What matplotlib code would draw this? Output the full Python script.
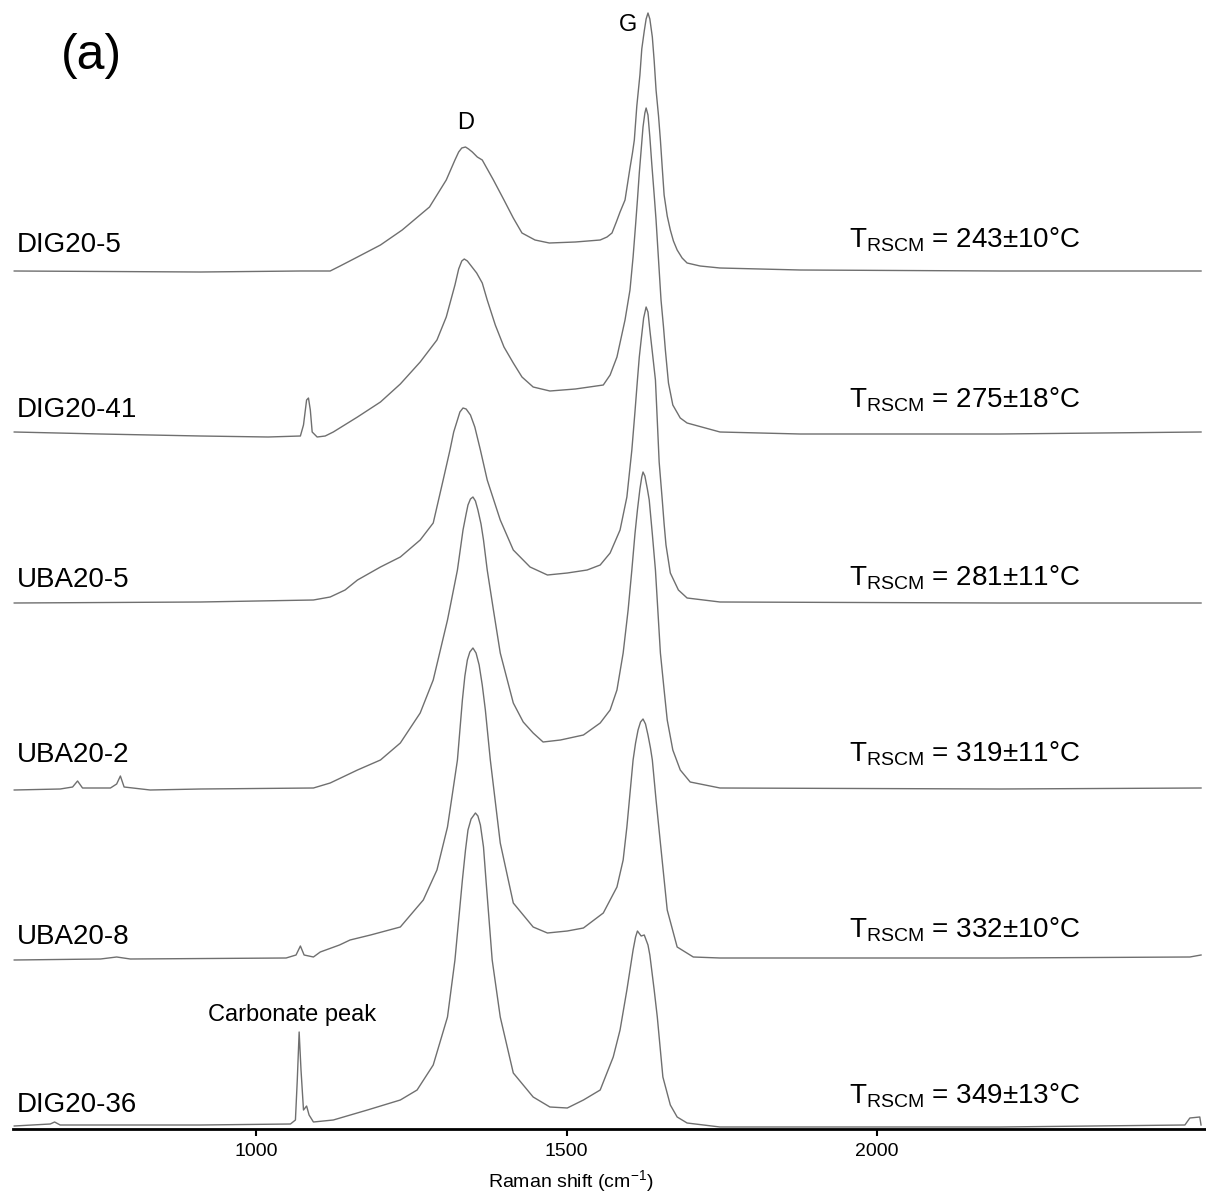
import matplotlib
matplotlib.use('Agg')
import matplotlib.pyplot as plt

plt.rcParams['font.family'] = ['Liberation Sans', 'DejaVu Sans']
plt.rcParams['mathtext.fontset'] = 'custom'
plt.rcParams['mathtext.rm'] = 'Liberation Sans'
plt.rcParams['mathtext.it'] = 'Liberation Sans:italic'

# sample names, top to bottom
samples = ['DIG20-5', 'DIG20-41', 'UBA20-5', 'UBA20-2', 'UBA20-8', 'DIG20-36']
temps = ['243±10°C', '275±18°C', '281±11°C', '319±11°C', '332±10°C', '349±13°C']
# vertical stacking offset of each spectrum (a.u.)
offsets = [858, 694, 527, 340, 171, 4]

# spectra: Raman shift (cm-1) and intensity above baseline (a.u.)
dig20_5_x = [610, 910, 1071, 1119, 1135, 1163, 1200, 1235, 1279, 1306,
             1320, 1326, 1331, 1337, 1342, 1348, 1356, 1364, 1382, 1399,
             1414, 1428, 1449, 1472, 1514, 1554, 1565, 1573, 1580, 1586,
             1594, 1602, 1606, 1609, 1613, 1618, 1621, 1625, 1628, 1631,
             1634, 1638, 1641, 1644, 1648, 1651, 1654, 1657, 1662, 1667,
             1672, 1678, 1686, 1694, 1715, 1747, 1876, 2198, 2522]
dig20_5_y = [0, -1, 0, 0, 5, 14, 26, 41, 64, 91,
             111, 119, 123, 124, 122, 119, 114, 111, 91, 71,
             53, 38, 31, 28, 29, 31, 34, 38, 49, 59,
             71, 103, 118, 131, 165, 196, 222, 240, 252, 258,
             252, 234, 210, 181, 155, 131, 103, 76, 55, 41,
             30, 21, 13, 8, 5, 3, 1, 0, 0]

dig20_41_x = [610, 749, 910, 1019, 1071, 1076, 1081, 1084, 1087, 1090,
              1098, 1111, 1124, 1163, 1200, 1232, 1264, 1291, 1306, 1320,
              1326, 1331, 1335, 1340, 1345, 1355, 1364, 1372, 1385, 1399,
              1414, 1428, 1446, 1473, 1514, 1559, 1570, 1581, 1594, 1602,
              1607, 1611, 1614, 1617, 1620, 1623, 1626, 1628, 1631, 1634,
              1637, 1641, 1644, 1647, 1650, 1652, 1656, 1659, 1664, 1671,
              1683, 1694, 1747, 1876, 2198, 2522]
dig20_41_y = [3, 1, -1, -2, -1, 10, 35, 37, 25, 3,
              -2, -1, 3, 18, 33, 51, 73, 95, 118, 150,
              166, 174, 176, 174, 170, 162, 152, 135, 110, 88,
              72, 58, 48, 44, 46, 50, 60, 78, 115, 145,
              178, 210, 235, 262, 285, 308, 322, 327, 320, 298,
              272, 240, 215, 185, 155, 135, 108, 85, 52, 30,
              17, 12, 3, 1, 1, 3]

uba20_5_x = [610, 910, 1092, 1119, 1143, 1163, 1200, 1232, 1264, 1285,
             1301, 1312, 1318, 1324, 1328, 1333, 1338, 1345, 1352, 1361,
             1372, 1393, 1414, 1441, 1469, 1501, 1533, 1554, 1570, 1586,
             1597, 1605, 1610, 1614, 1617, 1620, 1624, 1628, 1631, 1634,
             1638, 1643, 1645, 1649, 1654, 1657, 1660, 1667, 1680, 1694,
             1747, 2198, 2522]
uba20_5_y = [-1, 0, 2, 5, 12, 22, 35, 45, 62, 79,
             122, 152, 170, 182, 190, 194, 193, 187, 175, 152,
             122, 82, 52, 35, 27, 29, 32, 37, 49, 72,
             105, 152, 190, 222, 245, 262, 284, 295, 290, 272,
             250, 222, 195, 140, 102, 78, 57, 29, 12, 4,
             0, -1, -1]

uba20_2_x = [610, 684, 704, 712, 720, 765, 775, 781, 787, 829,
             910, 1092, 1119, 1163, 1200, 1232, 1264, 1285, 1308, 1324,
             1333, 1338, 1341, 1345, 1349, 1353, 1357, 1362, 1366, 1372,
             1382, 1393, 1414, 1430, 1446, 1462, 1490, 1527, 1554, 1570,
             1581, 1591, 1599, 1605, 1610, 1614, 1618, 1621, 1623, 1626,
             1630, 1633, 1638, 1643, 1651, 1657, 1662, 1671, 1683, 1699,
             1747, 2198, 2522]
uba20_2_y = [-1, 0, 2, 8, 1, 1, 5, 13, 2, -1,
             0, 1, 6, 19, 29, 46, 76, 109, 169, 219,
             259, 275, 284, 290, 292, 288, 279, 265, 249, 219,
             179, 136, 86, 67, 56, 47, 49, 54, 66, 79,
             99, 136, 179, 219, 255, 279, 300, 312, 317, 313,
             300, 289, 255, 219, 136, 99, 69, 39, 19, 7,
             1, 0, 1]

uba20_8_x = [610, 749, 775, 797, 1048, 1064, 1071, 1077, 1092, 1103,
             1134, 1151, 1184, 1232, 1269, 1291, 1308, 1324, 1332, 1336,
             1340, 1344, 1349, 1354, 1359, 1364, 1369, 1377, 1393, 1414,
             1446, 1469, 1501, 1527, 1559, 1581, 1591, 1597, 1607, 1611,
             1615, 1619, 1623, 1627, 1631, 1635, 1638, 1644, 1651, 1662,
             1678, 1704, 1747, 2198, 2504, 2522]
uba20_8_y = [-2, -1, 1, -1, 0, 3, 12, 3, 1, 6,
             13, 18, 23, 31, 58, 88, 131, 198, 258, 282,
             298, 306, 310, 305, 293, 273, 248, 198, 115, 55,
             31, 25, 27, 30, 45, 71, 98, 131, 198, 215,
             228, 236, 239, 234, 223, 210, 198, 158, 115, 48,
             11, 1, 0, 0, 1, 3]

dig20_36_x = [610, 668, 675, 684, 910, 1055, 1063, 1066, 1069, 1072,
              1076, 1081, 1085, 1092, 1124, 1179, 1232, 1259, 1285, 1308,
              1320, 1332, 1337, 1341, 1346, 1353, 1357, 1361, 1366, 1370,
              1380, 1393, 1414, 1446, 1473, 1501, 1527, 1554, 1575, 1586,
              1597, 1602, 1607, 1611, 1614, 1620, 1625, 1631, 1634, 1641,
              1646, 1655, 1667, 1678, 1694, 1747, 2198, 2496, 2504, 2520,
              2522]
dig20_36_y = [-1, 1, 3, 0, 0, 1, 5, 45, 93, 55,
              15, 19, 10, 3, 5, 15, 25, 35, 60, 108,
              165, 245, 275, 295, 306, 312, 309, 300, 278, 245,
              165, 108, 52, 28, 18, 17, 25, 35, 68, 95,
              135, 155, 175, 188, 194, 189, 190, 180, 170, 135,
              108, 48, 20, 8, 2, -2, -2, 0, 7, 8,
              0]

spectra = [(dig20_5_x, dig20_5_y), (dig20_41_x, dig20_41_y), (uba20_5_x, uba20_5_y),
           (uba20_2_x, uba20_2_y), (uba20_8_x, uba20_8_y), (dig20_36_x, dig20_36_y)]

xticks = [1000, 1500, 2000]

fig = plt.figure(figsize=(12.06, 11.95), dpi=100)
ax = fig.add_axes([13 / 1206, 66 / 1195, 1193 / 1206, 1129 / 1195])

for (x, y), off in zip(spectra, offsets):
    ax.plot(x, [v + off for v in y], color='#6f6f6f', lw=1.0)

ax.set_xlim(608, 2530)
ax.set_ylim(0, 1129)

# sample names (left) and temperatures (right)
name_y = [877, 712, 542, 367, 185, 17]
temp_y = [882, 721, 544, 367, 192, 26]
for name, temp, ny, ty in zip(samples, temps, name_y, temp_y):
    ax.text(614, ny, name, fontsize=20, va='baseline', ha='left')
    ax.text(1955, ty, r'T$_{\mathrm{RSCM}}$ = ' + temp, fontsize=20, va='baseline', ha='left')

ax.text(1337, 1006, 'D', fontsize=17, ha='center', va='center')
ax.text(1599, 1104, 'G', fontsize=17, ha='center', va='center')
ax.text(1058, 114, 'Carbonate peak', fontsize=17, ha='center', va='center')
fig.text(91 / 1206, 1 - 56 / 1195, '(a)', fontsize=36, ha='center', va='center')

for s in ['top', 'left', 'right']:
    ax.spines[s].set_visible(False)
ax.spines['bottom'].set_linewidth(2)
ax.set_yticks([])
ax.set_xticks(xticks)
ax.tick_params(axis='x', direction='out', length=5, width=1.5, labelsize=14, pad=5)
ax.set_xlabel('Raman shift (cm$^{-1}$)', fontsize=14)
ax.xaxis.set_label_coords(0.4677, -0.035)

fig.savefig('out.png', dpi=100)
